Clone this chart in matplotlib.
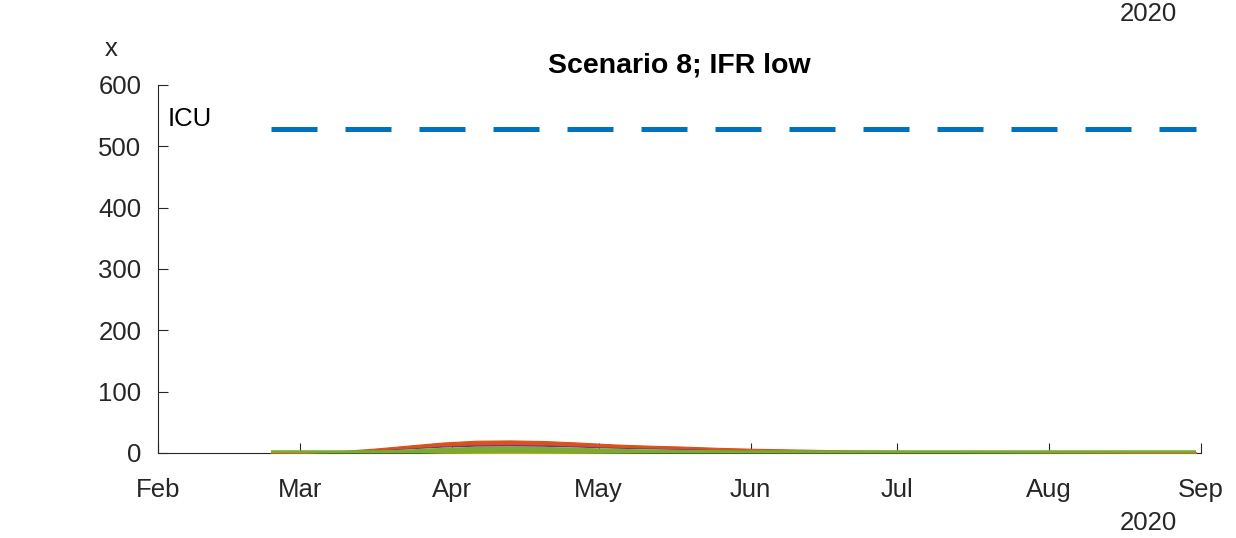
import numpy as np
import matplotlib
matplotlib.use("Agg")
import matplotlib.pyplot as plt
import matplotlib.dates as mdates
import datetime as dt

plt.rcParams['font.family'] = ['Liberation Sans', 'DejaVu Sans']

# ---- data (weekly) ----
start = dt.date(2020, 2, 24)
dates = [start + dt.timedelta(days=7 * i) for i in range(28)]

orange_top = [0, 1, 3, 7, 12, 17, 20, 20.5, 19.5, 17, 14, 12, 10.5, 8.5, 7, 6, 5,
              4.3, 3.6, 3, 2.5, 2.1, 1.8, 1.5, 1.3, 1.1, 1, 0.9]
purple_top = [0, 0.7, 2, 4.7, 8, 11.5, 13.5, 14, 13.3, 11.5, 9.5, 8.2, 7.1, 5.8,
              4.8, 4.1, 3.4, 2.9, 2.4, 2, 1.7, 1.4, 1.2, 1, 0.9, 0.75, 0.7, 0.6]
green_top = [0, 0.6, 1.7, 3.9, 6.6, 9.4, 11, 11.3, 10.8, 9.4, 7.8, 6.7, 5.8, 4.7,
             3.9, 3.3, 2.8, 2.4, 2, 1.7, 1.4, 1.2, 1, 0.8, 0.7, 0.6, 0.55, 0.5]
yellow_top = [-4, -4, -3.5, -2.5, -1.2, 0, 0.5, 0.6, 0.5, 0.2, -0.3, -0.8, -1.3,
              -1.8, -2.3, -2.8, -3.2, -3.6, -4, -4, -4, -4, -4, -4, -4, -4, -4, -4]
yellow_bottom = [-4] * 28
green_line = [0] * 28
icu_capacity = 528

month_ticks = [dt.date(2020, m, 1) for m in range(2, 10)]
month_labels = ['Feb', 'Mar', 'Apr', 'May', 'Jun', 'Jul', 'Aug', 'Sep']
y_ticks = [0, 100, 200, 300, 400, 500, 600]

C_BLUE = (0, 0.447, 0.741)
C_ORANGE = (0.850, 0.325, 0.098)
C_YELLOW = (0.929, 0.694, 0.125)
C_PURPLE = (0.494, 0.184, 0.556)
C_GREEN = (0.466, 0.674, 0.188)
AX_COL = (0.15, 0.15, 0.15)

fig = plt.figure(figsize=(12.36, 5.38), dpi=100)
ax = fig.add_axes([158 / 1236, 85 / 538, (1201 - 158) / 1236, (453 - 85) / 538])

ax.fill_between(dates, purple_top, orange_top, color=C_ORANGE, lw=0.8, edgecolor=C_ORANGE, zorder=2)
ax.fill_between(dates, green_top, purple_top, color=C_PURPLE, lw=0, zorder=2)
ax.fill_between(dates, 0, green_top, color=C_GREEN, lw=0, zorder=2)
ax.plot(dates, green_line, color=C_GREEN, lw=4, solid_capstyle='butt', zorder=3)
ax.fill_between(dates, yellow_bottom, yellow_top, where=[t > b for t, b in zip(yellow_top, yellow_bottom)],
                interpolate=True, color=C_YELLOW, lw=0, zorder=4)
ax.plot([dates[0], dates[-1]], [icu_capacity, icu_capacity], color=C_BLUE, lw=3.6,
        dashes=(9.2, 5.6), dash_capstyle='butt', zorder=3)

ax.set_xlim(dt.date(2020, 2, 1), dt.date(2020, 9, 1))
ax.set_ylim(0, 600)
ax.set_xticks(month_ticks)
ax.set_xticklabels(month_labels)
ax.set_yticks(y_ticks)

for s in ['top', 'right']:
    ax.spines[s].set_visible(False)
for s in ['left', 'bottom']:
    ax.spines[s].set_color(AX_COL)
    ax.spines[s].set_linewidth(0.8)
ax.spines['bottom'].set_zorder(1)
ax.tick_params(direction='in', length=7, width=0.8, color=AX_COL, labelcolor=AX_COL,
               labelsize=18.5)
ax.tick_params(axis='x', pad=18)
ax.tick_params(axis='y', pad=12)
ax.set_clip_on(False)

ax.set_title('Scenario 8; IFR low', fontsize=20.5, fontweight='bold', pad=9)
fig.text(111 / 1236, 1 - 49 / 538, 'x', fontsize=18.5, color=AX_COL, ha='center', va='center')
fig.text(1148 / 1236, 1 - 14 / 538, '2020', fontsize=18.5, color=AX_COL, ha='center', va='center')
fig.text(1148 / 1236, 1 - 523 / 538, '2020', fontsize=18.5, color=AX_COL, ha='center', va='center')
ax.text(dt.date(2020, 2, 3), 545, 'ICU', fontsize=18.5, color='black', ha='left', va='center')

fig.savefig('out.png', dpi=100)
